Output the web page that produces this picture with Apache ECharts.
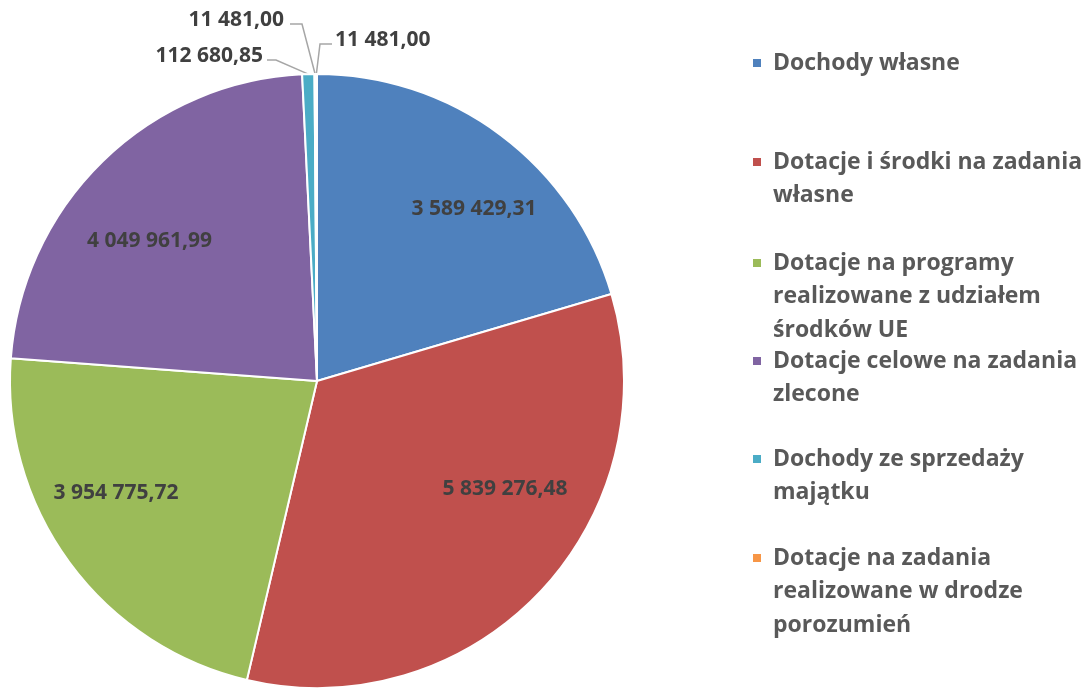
<!DOCTYPE html>
<html>
<head>
<meta charset="utf-8">
<script src="https://cdn.jsdelivr.net/npm/echarts@6/dist/echarts.min.js"></script>
<style>
  html, body { margin: 0; padding: 0; background: #fff; }
  #chart { width: 1091px; height: 688px; }
</style>
</head>
<body>
<div id="chart"></div>
<script>
// categories (legend text, wrapped like the original)
var categories = [
  'Dochody własne',
  'Dotacje i środki na zadania\nwłasne',
  'Dotacje na programy\nrealizowane z udziałem\nśrodków UE',
  'Dotacje celowe na zadania\nzlecone',
  'Dochody ze sprzedaży\nmajątku',
  'Dotacje na zadania\nrealizowane w drodze\nporozumień',
  'Inne'
];
var values = [3589429.31, 5839276.48, 3954775.72, 4049961.99, 112680.85, 11481.00, 11481.00];
var colors = ['#4F81BD', '#C0504D', '#9BBB59', '#8064A2', '#4BACC6', '#F79646', '#2C4D75'];

// layout
var cx = 317, cy = 381, R = 307;
var legendIconY = [63, 162, 263, 361, 459, 558];
var lh = 33.5;
// nudges of the inside labels (best-fit placement like the original)
var insideNudge = [[21, 10], [23, -48], [-18, -22], [-9, 23]];

function fmt(v) {
  var parts = v.toFixed(2).split('.');
  return parts[0].replace(/\B(?=(\d{3})+(?!\d))/g, ' ') + ',' + parts[1];
}

// mid angle (clockwise from 12 o'clock) of each slice, for leader lines
var total = values.reduce(function (a, b) { return a + b; }, 0);
var midAng = [];
var acc = 0;
values.forEach(function (v) {
  midAng.push((acc + v / 2) / total * 2 * Math.PI);
  acc += v;
});
function anchor(i) {
  return [cx + R * Math.sin(midAng[i]), cy - R * Math.cos(midAng[i])];
}

// small slice labels: label position and bend point
var smallLabels = {
  4: { x: 263, y: 56, align: 'right', bend: [276, 60], end: [267, 60] },
  5: { x: 284, y: 20, align: 'right', bend: [302, 24], end: [290, 24] },
  6: { x: 335, y: 40, align: 'left', bend: [320, 44], end: [332, 44] }
};

var font = 'Open Sans';
var chart = echarts.init(document.getElementById('chart'));

var mainData = values.map(function (v, i) {
  return {
    name: categories[i],
    value: v,
    itemStyle: { color: colors[i] },
    label: { show: i >= 4 },
    labelLine: { show: i >= 4 }
  };
});
var labelData = values.map(function (v, i) {
  return {
    name: categories[i],
    value: v,
    label: { show: i < 4 }
  };
});

var legends = categories.slice(0, 6).map(function (name, i) {
  var n = name.split('\n').length;
  return {
    data: [name],
    orient: 'vertical',
    left: 751,
    top: legendIconY[i] - (2 * n - 1) * lh / 2,
    padding: 0,
    icon: 'rect',
    itemWidth: 10,
    itemHeight: 10,
    selectedMode: false,
    formatter: function (nm) {
      var k = nm.split('\n').length;
      return new Array(k).join('\n') + nm;
    },
    textStyle: {
      fontFamily: font,
      fontWeight: 'bold',
      fontSize: 23,
      color: '#595959',
      lineHeight: lh,
      padding: [0, 0, 0, 6]
    }
  };
});

chart.setOption({
  animation: false,
  backgroundColor: '#fff',
  legend: legends,
  series: [
    {
      type: 'pie',
      center: [cx, cy],
      radius: [0, R],
      startAngle: 90,
      clockwise: true,
      silent: true,
      itemStyle: { borderColor: '#fff', borderWidth: 2 },
      label: {
        position: 'outside',
        formatter: function (p) { return fmt(p.value); },
        fontFamily: font,
        fontWeight: 'bold',
        fontSize: 21,
        color: '#404040'
      },
      labelLine: {
        lineStyle: { color: '#A6A6A6', width: 1.5 }
      },
      labelLayout: function (p) {
        var s = smallLabels[p.dataIndex];
        if (!s) return {};
        return {
          x: s.x,
          y: s.y,
          align: s.align,
          verticalAlign: 'middle',
          labelLinePoints: [anchor(p.dataIndex), s.bend, s.end]
        };
      },
      data: mainData
    },
    {
      type: 'pie',
      center: [cx, cy],
      radius: [R * 0.46, R],
      startAngle: 90,
      clockwise: true,
      silent: true,
      itemStyle: { color: 'transparent', borderWidth: 0 },
      emphasis: { disabled: true },
      labelLine: { show: false },
      label: {
        position: 'inside',
        formatter: function (p) { return fmt(p.value); },
        fontFamily: font,
        fontWeight: 'bold',
        fontSize: 21,
        color: '#404040'
      },
      labelLayout: function (p) {
        var d = insideNudge[p.dataIndex];
        return d ? { dx: d[0], dy: d[1] } : {};
      },
      data: labelData
    }
  ]
});
</script>
</body>
</html>
